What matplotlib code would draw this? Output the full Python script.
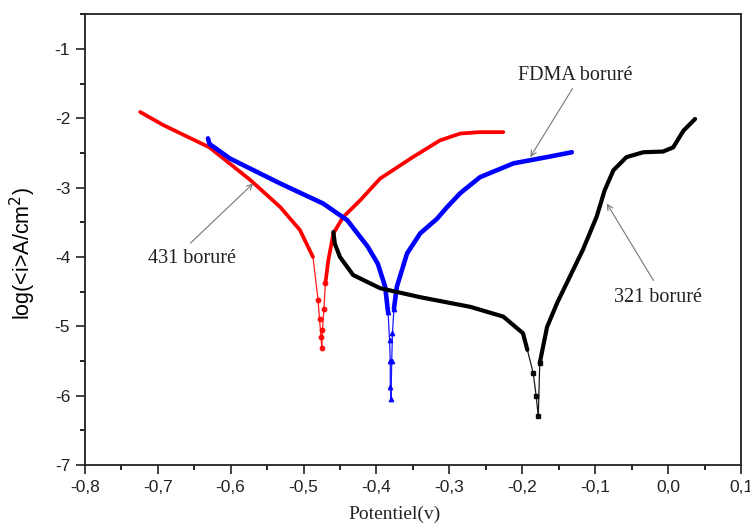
#!/usr/bin/env python3
"""Polarisation curves of borided steels (431, FDMA, 321)."""

import matplotlib
matplotlib.use("Agg")
import matplotlib.pyplot as plt
import numpy as np
from matplotlib.ticker import FuncFormatter, MultipleLocator

# 431 boruré (red)
x_431 = [-0.724, -0.692, -0.629, -0.573, -0.532, -0.505, -0.487, -0.480, -0.478,
         -0.476, -0.475, -0.474, -0.472, -0.470, -0.466, -0.459, -0.446, -0.422,
         -0.395, -0.350, -0.313, -0.285, -0.258, -0.226]
y_431 = [-1.91, -2.10, -2.42, -2.89, -3.28, -3.61, -4.00, -4.62, -4.90,
         -5.15, -5.31, -5.05, -4.75, -4.38, -4.05, -3.66, -3.43, -3.18,
         -2.87, -2.56, -2.32, -2.22, -2.20, -2.20]

# FDMA boruré (blue)
x_fdma = [-0.631, -0.629, -0.601, -0.532, -0.473, -0.440, -0.412, -0.398, -0.388,
          -0.384, -0.382, -0.381, -0.381, -0.380, -0.379, -0.378, -0.376, -0.372,
          -0.358, -0.340, -0.317, -0.303, -0.285, -0.258, -0.212, -0.166, -0.132]
y_fdma = [-2.29, -2.37, -2.58, -2.94, -3.23, -3.47, -3.85, -4.10, -4.43,
          -4.80, -5.20, -5.50, -5.87, -6.05, -5.50, -5.10, -4.75, -4.43,
          -3.95, -3.66, -3.45, -3.28, -3.08, -2.85, -2.65, -2.56, -2.49]

# 321 boruré (black)
x_321 = [-0.459, -0.457, -0.450, -0.432, -0.395, -0.340, -0.271, -0.226, -0.199,
         -0.193, -0.185, -0.181, -0.178, -0.176, -0.166, -0.152, -0.135, -0.117,
         -0.098, -0.087, -0.075, -0.057, -0.034, -0.007, 0.007, 0.021, 0.037]
y_321 = [-3.64, -3.81, -4.00, -4.26, -4.45, -4.58, -4.72, -4.86, -5.10,
         -5.34, -5.67, -6.00, -6.30, -5.53, -5.01, -4.66, -4.29, -3.90,
         -3.42, -3.04, -2.75, -2.56, -2.49, -2.48, -2.42, -2.18, -2.01]

series = [
    (x_431, y_431, "#ff0000", "o", -4.5, 2.7),
    (x_fdma, y_fdma, "#0000ff", "^", -4.9, 3.3),
    (x_321, y_321, "#000000", "s", -5.6, 3.0),
]

labels = [
    ("431 boruré", (-0.653, -4.02), (-0.655, -3.80), (-0.569, -2.94)),
    ("FDMA boruré", (-0.127, -1.38), (-0.131, -1.57), (-0.189, -2.56)),
    ("321 boruré", (-0.014, -4.58), (-0.020, -4.34), (-0.084, -3.23)),
]

SANS = "Liberation Sans"
SERIF = "Liberation Serif"

fig = plt.figure(figsize=(7.5, 5.27), dpi=100)
ax = fig.add_axes([0.113, 0.1176, 0.875, 0.8554])

for xs, ys, color, mk, cut, lw in series:
    xs = np.asarray(xs)
    ys = np.asarray(ys)
    # thin tip with markers near the corrosion potential
    tip = ys <= cut + 0.15
    ax.plot(xs, ys, color=color, lw=0.9, marker=mk, ms=3.2, markevery=list(tip),
            alpha=0.9)
    thick = np.where(ys > cut, ys, np.nan)
    ax.plot(xs, thick, color=color, lw=lw, solid_capstyle="round",
            solid_joinstyle="round")

for text, txy, tail, head in labels:
    ax.annotate("", xy=head, xytext=tail,
                arrowprops=dict(arrowstyle="->", color="#777777", lw=0.8,
                                shrinkA=0, shrinkB=0))
    ax.text(txy[0], txy[1], text, ha="center", va="center",
            fontsize=14.5, family=SERIF, color="#222222")

ax.set_xlim(-0.8, 0.1)
ax.set_ylim(-7, -0.5)
ax.xaxis.set_major_locator(MultipleLocator(0.1))
ax.xaxis.set_minor_locator(MultipleLocator(0.05))
ax.yaxis.set_major_locator(MultipleLocator(1))
ax.yaxis.set_minor_locator(MultipleLocator(0.5))
ax.xaxis.set_major_formatter(FuncFormatter(lambda v, p: f"{v:.1f}".replace(".", ",").replace("-0,0", "0,0")))
ax.yaxis.set_major_formatter(FuncFormatter(lambda v, p: f"{v:.0f}"))

ax.tick_params(which="major", direction="out", length=6.5, width=1.2, pad=4,
               labelsize=12.5, colors="#222222")
ax.tick_params(which="minor", direction="out", length=3.5, width=1.2)
for lab in ax.get_xticklabels() + ax.get_yticklabels():
    lab.set_family(SANS)
for s in ax.spines.values():
    s.set_linewidth(1.3)
    s.set_color("#222222")

ax.set_ylabel(r"log(<i>A/cm$^2$)", fontsize=15.5, family=SANS)
ax.yaxis.set_label_coords(-0.072, 0.47)
fig.text(395 / 750, 1 - 506 / 527, "Potentiel(v)", ha="center", va="top",
         fontsize=14, family=SERIF, color="#222222")

fig.savefig("out.png", dpi=100, facecolor="white")
